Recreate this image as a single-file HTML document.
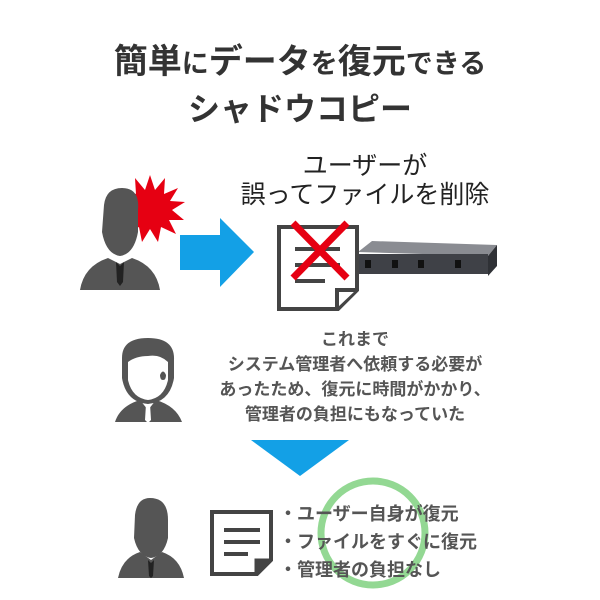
<!DOCTYPE html>
<html><head><meta charset="utf-8"><style>
body{margin:0;width:600px;height:600px;background:#fff;overflow:hidden;position:relative;font-family:"Liberation Sans","Noto Sans CJK JP",sans-serif}
.t{position:absolute;white-space:nowrap;color:#333;font-weight:bold}
</style></head><body>
<svg width="600" height="600" style="position:absolute;left:0;top:0">
<polygon fill="#e60012" points="150,175 155,190 165,178 164,194 178,188 170,201 185,202 172,210 184,220 169,220 176,234 161,227 158,242 150,229 142,242 139,227 124,234 131,220 116,220 128,210 115,202 130,201 122,188 136,194 135,178 145,190"/>
<g fill="#555">
<path d="M104,205 Q106,188 122,188 Q140,188 138,210 L138,232 Q134,254 120,256 Q106,254 102,232 Z"/>
<path d="M80,290 Q84,266 108,258 L120,264 L132,258 Q156,266 160,290 Z"/>
</g>
<path d="M116,262 L120,266 L124,262 L123,282 L120,286 L117,282 Z" fill="#222"/>
<polygon fill="#13a0e6" points="180,235 220,235 220,218 254,252 220,287 220,270 180,270"/>
<polygon fill="#8a8c92" points="358,252 372,241 497,245 488,256"/>
<rect x="358" y="254" width="130" height="20" fill="#3f4147"/>
<polygon fill="#2f3136" points="488,256 497,245 497,266 488,276"/>
<g fill="#111"><rect x="365" y="260" width="6" height="8"/><rect x="392" y="260" width="6" height="8"/><rect x="418" y="260" width="6" height="8"/><rect x="455" y="260" width="6" height="8"/></g>
<path d="M279,227 L357,227 L357,290 L338,309 L279,309 Z" fill="#fff" stroke="#444" stroke-width="4"/>
<path d="M337,308 L337,290 L356,290" fill="#fff" stroke="#444" stroke-width="4"/>
<g fill="#444"><rect x="295" y="247" width="45" height="4"/><rect x="295" y="263" width="45" height="4"/><rect x="295" y="279" width="30" height="4"/></g>
<g stroke="#e60012" stroke-width="7"><line x1="293" y1="223" x2="347" y2="278"/><line x1="347" y1="223" x2="293" y2="278"/></g>
<g fill="#555">
<path d="M122,358 Q122,338 148,338 Q175,338 174,360 L174,378 Q170,402 148,404 Q126,402 122,378 Z"/>
<path d="M115,422 Q120,406 140,400 L148,410 L156,400 Q176,406 182,422 Z"/>
</g>
<path d="M128,368 L128,380 Q132,398 148,400 Q164,398 168,380 L168,362 Q160,354 148,356 Q136,356 128,362 Z" fill="#fff"/>
<path d="M160,375 Q163,368 166,375 Q166,380 163,380 Q160,380 160,375 Z" fill="#555"/>
<path d="M146,404 L150,404 L151,420 L148,423 L145,420 Z" fill="#fff"/>
<polygon fill="#13a0e6" points="251,440 349,440 300,476"/>
<g fill="#555">
<path d="M135,515 Q137,498 150,498 Q168,498 168,520 L168,538 Q164,556 151,558 Q138,556 134,538 Z"/>
<path d="M118,578 Q122,558 140,552 L151,560 L162,552 Q180,558 184,578 Z"/>
</g>
<path d="M148,560 L151,563 L154,560 L153,576 L151,578 L149,576 Z" fill="#222"/>
<path d="M212,512 L271,512 L271,560 L257,574 L212,574 Z" fill="#fff" stroke="#444" stroke-width="4"/>
<path d="M256,574 L256,560 L271,560" fill="#444" stroke="#444" stroke-width="3"/>
<g fill="#444"><rect x="224" y="528" width="36" height="4"/><rect x="224" y="540" width="36" height="4"/><rect x="224" y="552" width="24" height="4"/></g>
<circle cx="373" cy="533" r="52" fill="none" stroke="#93d893" stroke-width="7"/>
</svg>
<div class="t" style="left:0;width:600px;top:34px;text-align:center;font-size:34px;color:#333">簡単<span style="font-size:27px">に</span>データ<span style="font-size:27px">を</span>復元<span style="font-size:27px">できる</span></div>
<div class="t" style="left:0;width:600px;top:84px;text-align:center;font-size:32px;color:#333">シャドウコピー</div>
<div class="t" style="left:225px;width:280px;top:152px;text-align:center;font-size:25px;font-weight:normal;color:#222;line-height:29px">ユーザーが<br>誤ってファイルを削除</div>
<div class="t" style="left:180px;width:350px;top:327px;text-align:center;font-size:17px;color:#555;line-height:25px">これまで<br>システム管理者へ依頼する必要が<br>あったため、復元に時間がかかり、<br>管理者の負担にもなっていた</div>
<div class="t" style="left:279px;top:500px;font-size:18px;color:#555;line-height:28px">・ユーザー自身が復元<br>・ファイルをすぐに復元<br>・管理者の負担なし</div>
</body></html>
